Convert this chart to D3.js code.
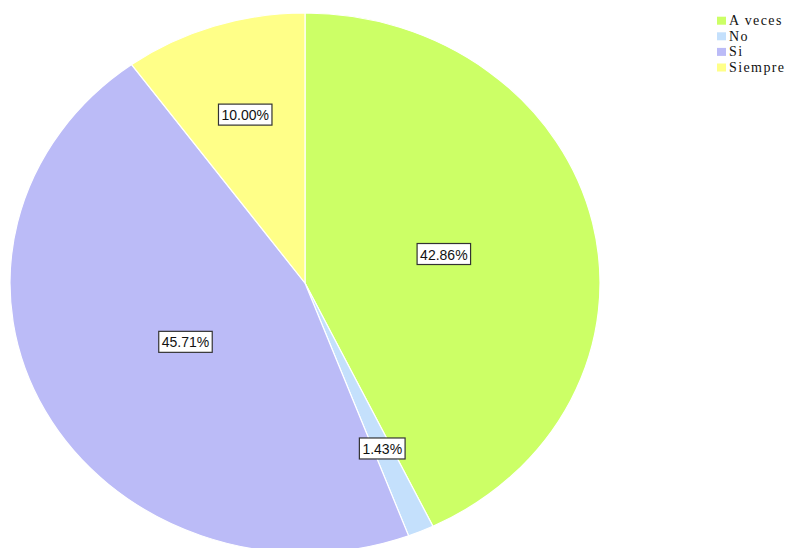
<!DOCTYPE html>
<html>
<head>
<meta charset="utf-8">
<script src="https://cdn.jsdelivr.net/npm/d3@7"></script>
<style>
  html, body { margin: 0; padding: 0; background: #ffffff; }
  svg { display: block; }
</style>
</head>
<body>
<svg id="chart" width="791" height="548"></svg>
<script>
const categories = ["A veces", "No", "Si", "Siempre"];
const values = [42.86, 1.43, 45.71, 10.00];
const valueLabels = ["42.86%", "1.43%", "45.71%", "10.00%"];
const colors = ["#ccff66", "#c4e0fc", "#bbbbf7", "#ffff88"];

const W = 791, H = 548;
const cx = 305, cy = 283, rx = 295, ry = 270;

const svg = d3.select("#chart");

const pie = d3.pie().sort(null).value(d => d.v).startAngle(0).endAngle(2 * Math.PI);
const data = categories.map((c, i) => ({ c, v: values[i], label: valueLabels[i], color: colors[i] }));
const arcs = pie(data);

const arc = d3.arc().innerRadius(0).outerRadius(rx);

const pieG = svg.append("g")
  .attr("transform", `translate(${cx},${cy}) scale(1,${ry / rx})`);

pieG.selectAll("path.slice")
  .data(arcs)
  .enter().append("path")
  .attr("class", "slice")
  .attr("d", arc)
  .attr("fill", d => d.data.color)
  .attr("stroke", "#ffffff")
  .attr("stroke-width", 1.2)
  .attr("vector-effect", "non-scaling-stroke");

// labels at sector centroids
const labelG = svg.append("g");
arcs.forEach(d => {
  const mid = (d.startAngle + d.endAngle) / 2;
  const half = (d.endAngle - d.startAngle) / 2;
  const f = half > 0 ? (2 * Math.sin(half)) / (3 * half) : 2 / 3;
  const x = cx + rx * f * Math.sin(mid);
  const y = cy - ry * f * Math.cos(mid);
  const g = labelG.append("g").attr("transform", `translate(${x},${y})`);
  const rect = g.append("rect");
  const t = g.append("text")
    .attr("text-anchor", "middle")
    .attr("dominant-baseline", "central")
    .attr("y", 0.5)
    .attr("font-family", "Liberation Sans, Arial, sans-serif")
    .attr("font-size", 14)
    .attr("fill", "#111111")
    .text(d.data.label);
  const bb = t.node().getBBox();
  const bw = bb.width + 6, bh = 21;
  rect.attr("x", -bw / 2).attr("y", -bh / 2)
    .attr("width", bw).attr("height", bh)
    .attr("fill", "#ffffff")
    .attr("stroke", "#333333")
    .attr("stroke-width", 1.2);
});

// legend
const legend = svg.append("g").attr("transform", "translate(717,0)");
const rowY = d3.scalePoint().domain(categories).range([20.7, 67.5]);
categories.forEach((c, i) => {
  const y = rowY(c);
  legend.append("rect")
    .attr("x", 0).attr("y", y - 4)
    .attr("width", 9).attr("height", 8)
    .attr("fill", colors[i]);
  legend.append("text")
    .attr("x", 12).attr("y", y + 4.5)
    .attr("font-family", "Liberation Serif, Times New Roman, serif")
    .attr("font-size", 14)
    .attr("letter-spacing", 1.4)
    .attr("fill", "#111111")
    .text(c);
});
</script>
</body>
</html>
